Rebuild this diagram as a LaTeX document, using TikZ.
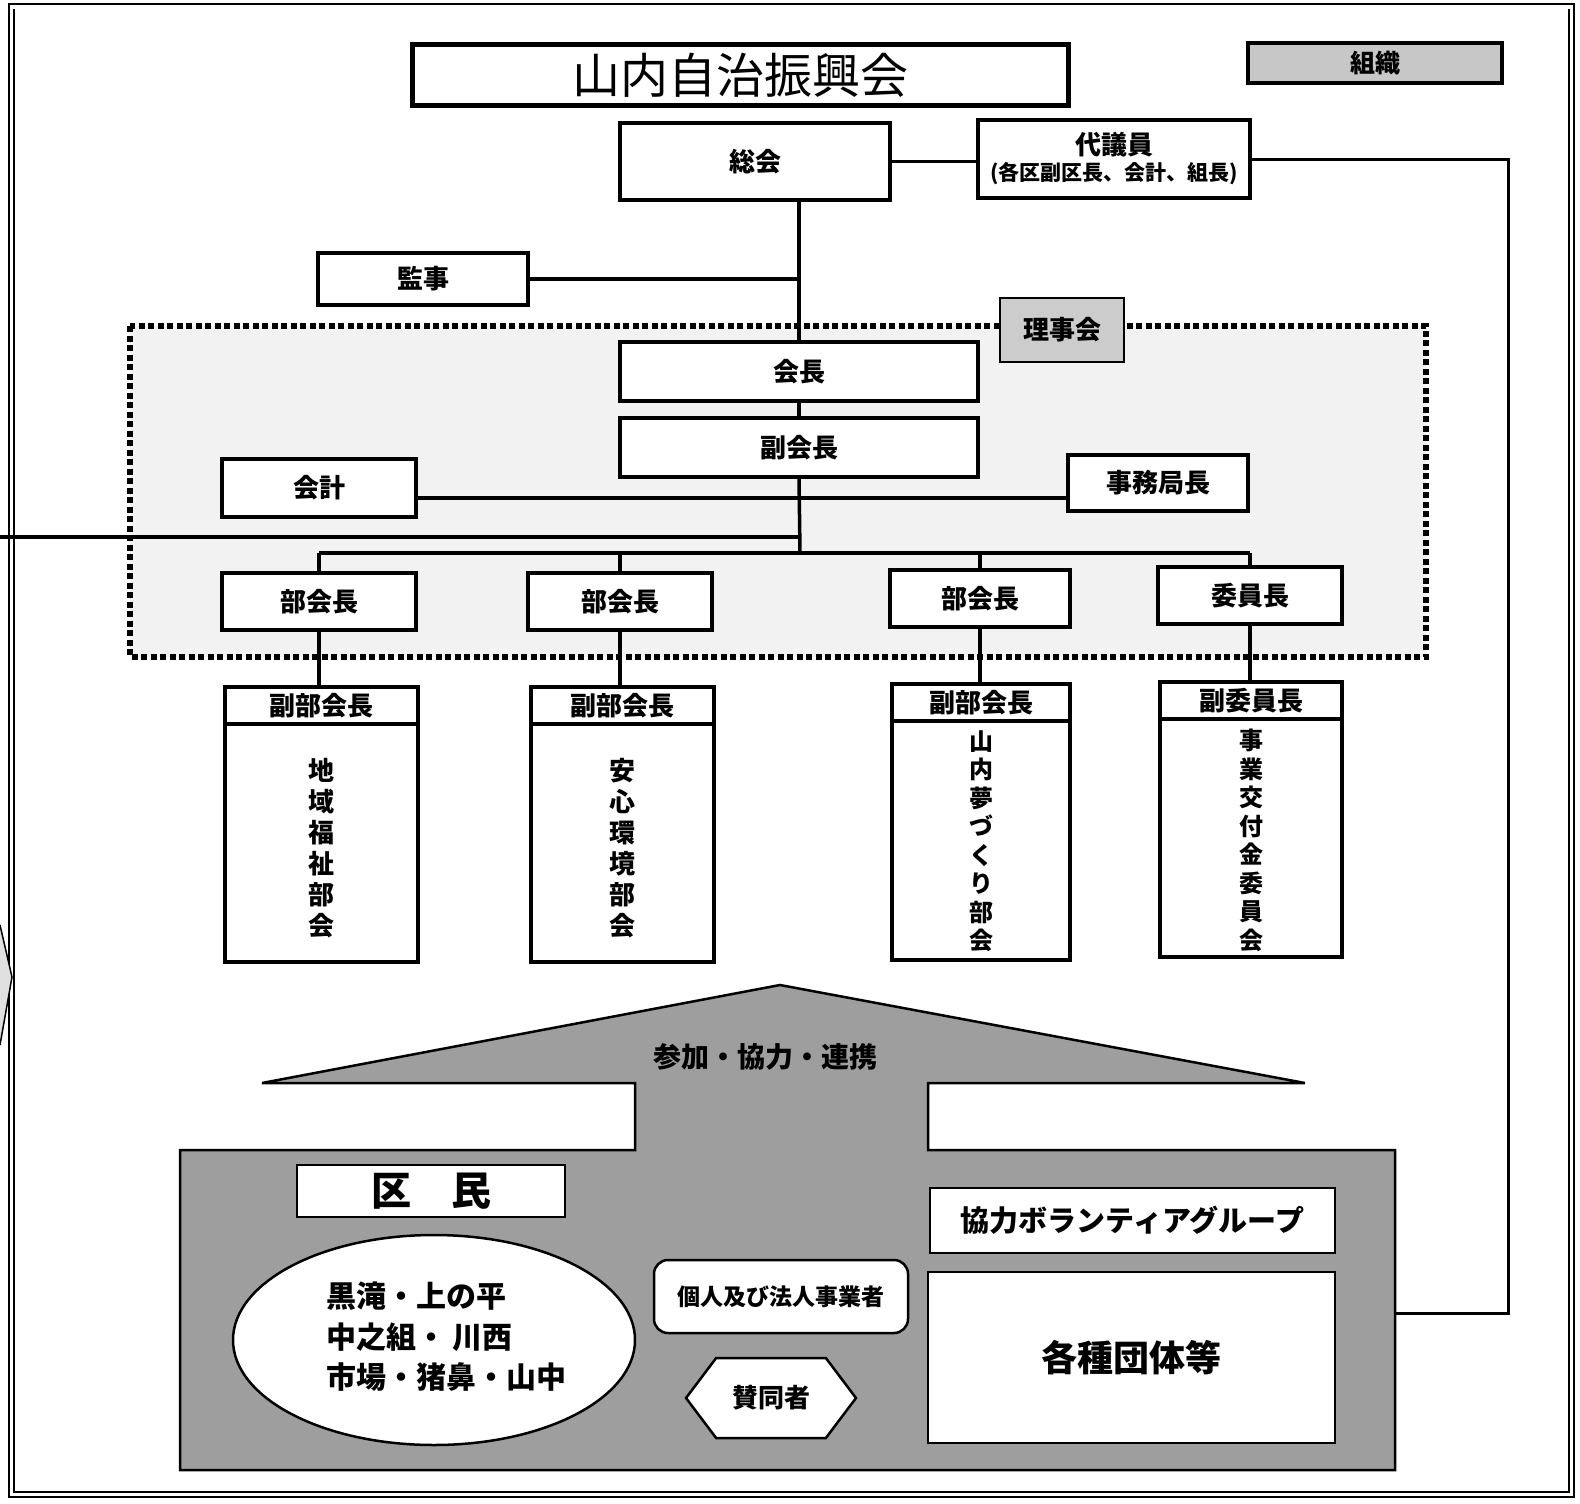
\documentclass[tikz,border=0pt]{standalone}
\usepackage{fontspec}
\setmainfont{Noto Sans CJK JP}
\usetikzlibrary{shapes.geometric,shapes.symbols,calc}
\begin{document}
\begin{tikzpicture}[x=1pt,y=-1pt,
  box/.style={draw, line width=4pt, fill=white, inner sep=0pt, outer sep=0pt, font=\fontsize{26}{30}\selectfont\bfseries},
  thinbox/.style={box, line width=2.5pt},
  conn/.style={line width=3.5pt},
  hdr/.style={inner sep=0pt, font=\fontsize{26}{30}\selectfont\bfseries},
  vt/.style={inner sep=0pt, align=center},
  subbox/.style={draw, line width=4pt, fill=white, inner sep=0pt, outer sep=0pt, minimum width=185pt, minimum height=275pt},
  dotframe/.style={line width=6pt, dash pattern=on 6pt off 3.5pt, fill=black!5}
]
\useasboundingbox (0,0) rectangle (1580,1504);
% outer frame
\draw[line width=2.5pt] (9,4) rectangle (1574,1497);
\draw[line width=1.2pt] (14,9) -- (14,1492) -- (1569,1492) -- (1569,9);
% stray shape at left edge
\filldraw[fill=black!12, line width=1.5pt] (0,925) -- (12,977) -- (0,1045);

% title
\node[box, line width=5pt, minimum width=656pt, minimum height=60pt, font=\fontsize{48}{50}\selectfont] (title) at (740,75) {山内自治振興会};
\node[box, fill=black!22, minimum width=254pt, minimum height=40pt, font=\fontsize{25}{28}\selectfont\bfseries] (soshiki) at (1375,63) {組織};

% top boxes
\node[box, minimum width=270pt, minimum height=77pt] (sokai) at (755,161.5) {総会};
\node[box, minimum width=272pt, minimum height=78pt, align=center] (daigi) at (1114,159)
  {代議員\\[-4pt]{\fontsize{21}{24}\selectfont (各区副区長、会計、組長)}};
\node[box, minimum width=210pt, minimum height=52pt] (kanji) at (423,279) {監事};

% board frame
\draw[dotframe] (130,326) rectangle (1426,657);
\node[box, line width=2.5pt, fill=black!20, minimum width=124pt, minimum height=64pt] (rijikai) at (1062,330) {理事会};

\node[box, minimum width=358pt, minimum height=59pt] (kaicho) at (799,371.5) {会長};
\node[box, minimum width=358pt, minimum height=59pt] (fuku) at (799,447.5) {副会長};
\node[box, minimum width=194pt, minimum height=58pt] (kaikei) at (319,488) {会計};
\node[box, minimum width=180pt, minimum height=56pt] (jimu) at (1158,483) {事務局長};

\node[box, minimum width=194pt, minimum height=57pt] (bu1) at (319,601.5) {部会長};
\node[box, minimum width=184pt, minimum height=57pt] (bu2) at (620,601.5) {部会長};
\node[box, minimum width=180pt, minimum height=57pt] (bu3) at (980,598.5) {部会長};
\node[box, minimum width=184pt, minimum height=57pt] (iin) at (1250,595.5) {委員長};

% sub boxes
\node[subbox, minimum width=193pt] (s1) at (321.5,824.5) {};
\node[subbox, minimum width=183pt] (s2) at (622.5,824.5) {};
\node[subbox, minimum width=178pt, minimum height=276pt] (s3) at (981,822) {};
\node[subbox, minimum width=182pt] (s4) at (1251,819.5) {};
\foreach \s/\h in {s1/副部会長, s2/副部会長, s3/副部会長, s4/副委員長}{
  \draw[line width=3.5pt] ($(\s.north west)+(0,37)$) -- ($(\s.north east)+(0,37)$);
  \node[hdr] at ($(\s.north)+(0,19)$) {\h};
}
\node[vt, font=\fontsize{26}{31}\selectfont\bfseries] (v1) at ($(s1.center)+(0,24)$) {地\\域\\福\\祉\\部\\会};
\node[vt, font=\fontsize{26}{31}\selectfont\bfseries] (v2) at ($(s2.center)+(0,24)$) {安\\心\\環\\境\\部\\会};
\node[vt, font=\fontsize{24}{28.5}\selectfont\bfseries] (v3) at ($(s3.center)+(0,19)$) {山\\内\\夢\\づ\\く\\り\\部\\会};
\node[vt, font=\fontsize{24}{28.5}\selectfont\bfseries] (v4) at ($(s4.center)+(0,21)$) {事\\業\\交\\付\\金\\委\\員\\会};

% connectors
\coordinate (kline) at (800,498);
\coordinate (br) at (800,553);
\coordinate (leftend) at (0,537);
\draw[conn] (sokai.east) -- (daigi.west |- sokai.east);
\draw[conn] (kaicho.north |- sokai.south) -- (kaicho.north);
\draw[conn] (kanji.east) -- (kanji.east -| kaicho.north);
\draw[conn] (kaicho.south) -- (fuku.north);
\draw[conn] (kaikei.east |- kline) -- (jimu.west |- kline);
\draw[conn] (fuku.south) -- (br);
\draw[conn] (leftend) -- (leftend -| fuku.south);
\draw[conn] (bu1.north |- br) -- (iin.north |- br);
\foreach \b in {bu1,bu2,bu3,iin}{ \draw[conn] (\b.north |- br) -- (\b.north); }
\draw[conn] (bu1.south) -- (bu1.south |- s1.north);
\draw[conn] (bu2.south) -- (bu2.south |- s2.north);
\draw[conn] (bu3.south) -- (bu3.south |- s3.north);
\draw[conn] (iin.south) -- (iin.south |- s4.north);

% bottom shaded area
\filldraw[fill=black!38, line width=2.5pt, line join=miter]
  (780,985) -- (1305,1083) -- (928,1083) -- (928,1150) -- (1395,1150) -- (1395,1470)
  -- (180,1470) -- (180,1150) -- (635,1150) -- (635,1083) -- (262,1083) -- cycle;
\node[inner sep=0pt, font=\fontsize{28}{30}\selectfont\bfseries] (sanka) at (765,1057) {参加・協力・連携};

\node[thinbox, minimum width=268pt, minimum height=52pt, font=\fontsize{40}{44}\selectfont\bfseries] (kumin) at (431,1191) {区　民};
\node[draw, ellipse, line width=2.5pt, fill=white, minimum width=402pt, minimum height=210pt, inner sep=0pt] (ell) at (434,1340) {};
\node[inner sep=0pt, align=left, font=\fontsize{30}{40.5}\selectfont\bfseries] (elltext) at (446,1337)
  {黒滝・上の平\\中之組・ 川西\\市場・猪鼻・山中};
\node[thinbox, rounded corners=14pt, minimum width=254pt, minimum height=73pt, font=\fontsize{23}{26}\selectfont\bfseries] (kojin) at (781,1296.5) {個人及び法人事業者};
\node[draw, signal, signal to=west and east, signal pointer angle=106, line width=2.5pt, fill=white, minimum width=170pt, minimum height=80pt, inner sep=0pt, font=\fontsize{26}{30}\selectfont\bfseries] (sando) at (771,1398) {賛同者};
\node[thinbox, minimum width=405pt, minimum height=65pt, font=\fontsize{29}{32}\selectfont\bfseries] (kyoryoku) at (1132.5,1220.5) {協力ボランティアグループ};
\node[thinbox, minimum width=407pt, minimum height=171pt, font=\fontsize{36}{40}\selectfont\bfseries] (kakushu) at (1131.5,1357.5) {各種団体等};

% right connector
\coordinate (rc) at (1508,1313);
\coordinate (shR) at (1395,1313);
\draw[line width=3pt] (daigi.east) -| (rc) -- (shR);
\end{tikzpicture}
\end{document}
